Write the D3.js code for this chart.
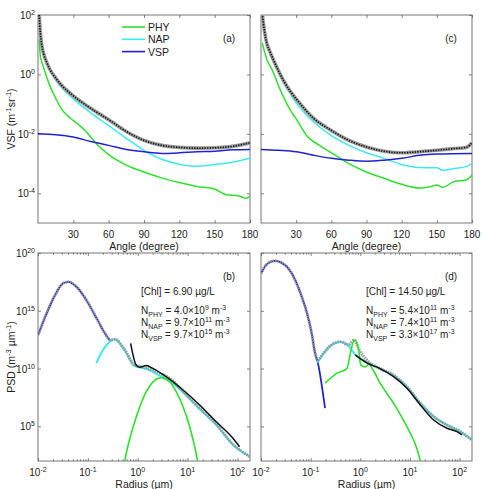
<!DOCTYPE html>
<html>
<head>
<meta charset="utf-8">
<script src="https://cdn.jsdelivr.net/npm/d3@7"></script>
<style>
body { margin: 0; background: #fff; }
text { font-family: "Liberation Sans", Arial, sans-serif; fill: #222; }
</style>
</head>
<body>
<div id="chart"></div>
<script>
// ---- data ----
// Panel (a): VSF vs scattering angle
var angA = [1, 2, 3, 5, 7.5, 10, 15, 20, 25, 30, 45, 60, 75, 90, 105, 120, 135, 150, 165, 180];
var vsfTotA = [100, 25, 11, 4.7, 2.5, 1.5, 0.76, 0.43, 0.28, 0.19, 0.071, 0.030, 0.012, 0.0060, 0.0041, 0.0035, 0.0033, 0.0034, 0.0038, 0.0050];
var vsfNapA = [89, 22, 10, 4.2, 2.2, 1.3, 0.66, 0.36, 0.23, 0.15, 0.050, 0.019, 0.0071, 0.0028, 0.0014, 0.00095, 0.00081, 0.00093, 0.0011, 0.0015];
var angPhyA = [1, 2, 3, 5, 7.5, 10, 15, 20, 25, 30, 40, 50, 60, 75, 90, 105, 120, 135, 150, 160, 170, 177, 180];
var vsfPhyA = [15, 4.2, 2.8, 1.6, 0.79, 0.42, 0.16, 0.068, 0.041, 0.028, 0.013, 0.0045, 0.0020, 0.00089, 0.00052, 0.00033, 0.00023, 0.00017, 0.00014, 0.000089, 0.000083, 0.000068, 0.000079];
var angVspA = [0, 15, 30, 45, 60, 75, 90, 105, 120, 135, 150, 165, 180];
var vsfVspA = [0.010, 0.0093, 0.0078, 0.0055, 0.0041, 0.0030, 0.0025, 0.0022, 0.0023, 0.0025, 0.0026, 0.0029, 0.0030];

// Panel (c)
var angC = [1, 3, 5, 7.5, 10, 15, 20, 25, 30, 45, 60, 75, 90, 105, 120, 135, 150, 165, 175, 180];
var vsfTotC = [112, 28, 11, 6.0, 3.5, 1.3, 0.55, 0.27, 0.15, 0.033, 0.013, 0.0060, 0.0036, 0.0026, 0.0023, 0.0025, 0.0028, 0.0032, 0.0035, 0.0050];
var angNapC = [1, 3, 5, 7.5, 10, 15, 20, 25, 30, 45, 60, 75, 90, 105, 120, 135, 150, 155, 165, 175, 180];
var vsfNapC = [100, 25, 10, 5.2, 3.0, 1.1, 0.45, 0.22, 0.11, 0.025, 0.0087, 0.0041, 0.0023, 0.0015, 0.00093, 0.00074, 0.00072, 0.00060, 0.00068, 0.00079, 0.0010];
var angPhyC = [1, 5, 10, 15, 20, 25, 30, 40, 50, 60, 75, 90, 105, 120, 135, 145, 150, 155, 165, 175, 180];
var vsfPhyC = [11.5, 3.2, 1.3, 0.41, 0.15, 0.063, 0.032, 0.0078, 0.0041, 0.0023, 0.0010, 0.00052, 0.00032, 0.00020, 0.00015, 0.00017, 0.00019, 0.00016, 0.00025, 0.00028, 0.00041];
var angVspC = [0, 15, 30, 45, 60, 75, 90, 105, 120, 135, 150, 180];
var vsfVspC = [0.0030, 0.0028, 0.0025, 0.0019, 0.0015, 0.0013, 0.0012, 0.0013, 0.0015, 0.0019, 0.0021, 0.0022];

// Panel (b): PSD vs radius
var radTotB = [0.01, 0.015, 0.022, 0.032, 0.041, 0.059, 0.093, 0.15, 0.22, 0.28, 0.35, 0.55, 0.87, 1.26, 1.74, 2.75, 4.4, 8.1, 17, 37, 81, 178];
var psdTotB = [7.9e12, 6.3e14, 2.3e16, 2.4e17, 3.2e17, 1.2e17, 8.5e15, 2.2e14, 1.1e13, 3.0e12, 3.4e12, 4.0e11, 2.0e10, 1.4e10, 1.0e10, 4.0e9, 1.4e9, 1.0e8, 4.0e6, 1.6e5, 2.8e3, 2.4e2];
var radNapB = [0.148, 0.2, 0.275, 0.35, 0.55, 0.87, 1.26, 1.74, 2.75, 4.4, 8.1, 17, 37, 81, 178];
var psdNapB = [2.9e10, 4.0e11, 2.1e12, 3.4e12, 3.5e11, 1.6e10, 1.1e10, 7.1e9, 2.4e9, 7.9e8, 8.9e7, 3.5e6, 1.4e5, 2.6e3, 2.4e2];
var radVspB = [0.01, 0.015, 0.022, 0.032, 0.041, 0.059, 0.093, 0.15, 0.22, 0.28];
var psdVspB = [7.9e12, 6.3e14, 2.3e16, 2.4e17, 3.2e17, 1.2e17, 8.5e15, 2.2e14, 1.1e13, 2.6e12];
var radPhyB = [0.5, 0.59, 0.81, 1.1, 1.48, 2.04, 2.95, 4.37, 5.9, 8.1, 11, 14.8, 17.4];
var psdPhyB = [10, 470, 9.3e4, 5.0e6, 1.0e8, 7.4e8, 1.6e9, 7.4e8, 1.0e8, 5.0e6, 9.3e4, 470, 10];
var radMeasB = [0.72, 0.93, 1.1, 1.48, 2.04, 3.7, 8.1, 17.4, 37, 81, 110];
var psdMeasB = [1.5e12, 2.0e10, 1.3e10, 1.8e10, 1.0e10, 2.0e9, 1.4e8, 7.1e6, 2.6e5, 9.3e3, 1.7e3];

// Panel (d)
var radTotD = [0.01, 0.0132, 0.019, 0.0263, 0.0355, 0.049, 0.066, 0.083, 0.105, 0.123, 0.138, 0.182, 0.245, 0.40, 0.575, 0.76, 0.93, 1.38, 2.51, 4.68, 8.7, 16.2, 30, 56, 105, 178];
var psdTotD = [1.7e18, 1.1e19, 2.1e19, 1.4e19, 4.7e18, 4.6e17, 1.7e16, 8.3e14, 1.1e13, 2.1e11, 5.5e10, 2.1e11, 8.9e11, 2.1e12, 1.1e12, 3.0e12, 5.0e11, 5.0e10, 1.0e10, 2.8e9, 2.7e8, 1.0e7, 6.9e5, 1.3e5, 3.5e4, 6.6e3];
var radVspD = [0.01, 0.0132, 0.019, 0.0263, 0.0355, 0.049, 0.066, 0.083, 0.105, 0.123, 0.138, 0.195];
var psdVspD = [1.7e18, 1.1e19, 2.1e19, 1.4e19, 4.7e18, 4.6e17, 1.7e16, 8.3e14, 1.1e13, 2.1e11, 4.0e10, 3.7e6];
var radNapD = [0.135, 0.182, 0.245, 0.40, 0.575, 0.79, 0.93, 1.38, 2.51, 4.68, 8.7, 16.2, 30, 56, 105, 178];
var psdNapD = [3.2e10, 2.0e11, 8.5e11, 2.0e12, 1.0e12, 1.6e11, 8.9e10, 3.5e10, 8.9e9, 2.5e9, 2.5e8, 1.0e7, 6.9e5, 1.3e5, 3.3e4, 6.3e3];
var radPhyD = [0.195, 0.34, 0.54, 0.63, 0.76, 0.93, 1.02, 1.26, 1.48, 1.74, 2.51, 4.68, 8.7, 14.1, 16.2, 20];
var psdPhyD = [5.4e8, 4.0e9, 1.0e10, 2.1e11, 3.0e12, 4.0e11, 2.0e10, 1.4e10, 2.5e10, 1.0e10, 5.4e8, 1.0e7, 9.3e4, 910, 100, 6.3];
var radMeasD = [0.79, 1.38, 2.51, 4.68, 8.7, 16.2, 30, 56, 89, 112];
var psdMeasD = [1.5e11, 2.9e10, 1.0e10, 2.0e9, 2.0e8, 7.1e6, 3.5e5, 6.8e4, 3.5e4, 1.8e4];

// ticks and labels
var angTicks = [30, 60, 90, 120, 150, 180];
var vsfTicks = [1e-4, 1e-2, 1e0, 1e2];
var radTicks = [1e-2, 1e-1, 1e0, 1e1, 1e2];
var psdTicks = [1e5, 1e10, 1e15, 1e20];
var legendNames = ["PHY", "NAP", "VSP"];
var chlB = "6.90", chlD = "14.50";
var numSubs = ["PHY", "NAP", "VSP"];
var numMantB = ["4.0", "9.7", "9.7"], numExpB = ["9", "11", "15"];
var numMantD = ["5.4", "7.4", "3.3"], numExpD = ["11", "11", "17"];

// ---- setup ----
var width = 483, height = 489;
var colPHY = "#2ee02e", colNAP = "#3ee8f0", colVSP = "#2222d0";
var axisCol = "#666";

var svg = d3.select("#chart").append("svg")
  .attr("width", width)
  .attr("height", height);
svg.append("rect").attr("width", width).attr("height", height).attr("fill", "#fff");

// write "10" with a superscript exponent into a text element
function powText(t, exp, sz) {
  t.append("tspan").text("10");
  t.append("tspan").attr("font-size", sz || 7).attr("dy", -4).text(exp);
}

// one panel: box, ticks, labels, clip, returns scales and a clipped group
function makePanel(cfg) {
  var x = cfg.logX ? d3.scaleLog() : d3.scaleLinear();
  x.domain(cfg.xDom).range([cfg.left, cfg.right]);
  var y = d3.scaleLog().domain(cfg.yDom).range([cfg.bottom, cfg.top]);

  var g = svg.append("g");
  var clipId = "clip" + cfg.name;
  svg.append("clipPath").attr("id", clipId)
    .append("rect")
    .attr("x", cfg.left).attr("y", cfg.top)
    .attr("width", cfg.right - cfg.left).attr("height", cfg.bottom - cfg.top);

  // tick marks pointing inward, on all four sides
  var xt = cfg.xTicks;
  g.append("g").attr("transform", "translate(0," + cfg.bottom + ")")
    .call(d3.axisBottom(x).tickValues(xt).tickSize(-3).tickSizeOuter(0).tickFormat(""));
  g.append("g").attr("transform", "translate(0," + cfg.top + ")")
    .call(d3.axisTop(x).tickValues(xt).tickSize(-3).tickSizeOuter(0).tickFormat(""));
  g.append("g").attr("transform", "translate(" + cfg.left + ",0)")
    .call(d3.axisLeft(y).tickValues(cfg.yTicks).tickSize(-3).tickSizeOuter(0).tickFormat(""));
  g.append("g").attr("transform", "translate(" + cfg.right + ",0)")
    .call(d3.axisRight(y).tickValues(cfg.yTicks).tickSize(-3).tickSizeOuter(0).tickFormat(""));

  if (cfg.logX) {
    var minor = x.ticks().filter(function(v) {
      var e = Math.log10(v);
      return Math.abs(e - Math.round(e)) > 1e-6;
    });
    g.append("g").attr("transform", "translate(0," + cfg.bottom + ")")
      .call(d3.axisBottom(x).tickValues(minor).tickSize(-1.8).tickSizeOuter(0).tickFormat(""));
    g.append("g").attr("transform", "translate(0," + cfg.top + ")")
      .call(d3.axisTop(x).tickValues(minor).tickSize(-1.8).tickSizeOuter(0).tickFormat(""));
  }
  g.selectAll(".domain").remove();
  g.selectAll(".tick line").attr("stroke", axisCol).attr("stroke-width", 0.8);

  g.append("rect")
    .attr("x", cfg.left).attr("y", cfg.top)
    .attr("width", cfg.right - cfg.left).attr("height", cfg.bottom - cfg.top)
    .attr("fill", "none").attr("stroke", axisCol).attr("stroke-width", 0.9);

  // x tick labels
  xt.forEach(function(v) {
    var t = g.append("text")
      .attr("x", x(v)).attr("y", cfg.bottom + 15)
      .attr("text-anchor", "middle").attr("font-size", 10);
    if (cfg.logX) powText(t, Math.round(Math.log10(v)));
    else t.text(v);
  });
  // y tick labels only on the left column
  if (cfg.yLabels) {
    cfg.yTicks.forEach(function(v) {
      var t = g.append("text")
        .attr("x", cfg.left - 3).attr("y", y(v) + 4)
        .attr("text-anchor", "end").attr("font-size", 10);
      powText(t, Math.round(Math.log10(v)));
    });
  }
  // x title
  g.append("text")
    .attr("x", (cfg.left + cfg.right) / 2).attr("y", cfg.bottom + 27)
    .attr("text-anchor", "middle").attr("font-size", 10.5)
    .text(cfg.xTitle);

  // panel tag
  g.append("text")
    .attr("x", cfg.right - 21).attr("y", cfg.top + 27)
    .attr("text-anchor", "middle").attr("font-size", 10)
    .text(cfg.tag);

  var plot = svg.append("g").attr("clip-path", "url(#" + clipId + ")");
  return { x: x, y: y, plot: plot, g: g };
}

function drawLine(p, xs, ys, color, w, extra) {
  var line = d3.line()
    .x(function(d) { return p.x(d[0]); })
    .y(function(d) { return p.y(d[1]); })
    .curve(d3.curveMonotoneX);
  var path = p.plot.append("path")
    .datum(d3.zip(xs, ys))
    .attr("d", line)
    .attr("fill", "none")
    .attr("stroke", color)
    .attr("stroke-width", w)
    .attr("stroke-linejoin", "round");
  if (extra) {
    Object.keys(extra).forEach(function(k) { path.attr(k, extra[k]); });
  }
  return path;
}

// total VSF: grey band with black dots on top
function drawTotalVsf(p, xs, ys) {
  drawLine(p, xs, ys, "#9a9a9a", 3.6);
  drawLine(p, xs, ys, "#111", 1.6, { "stroke-dasharray": "1.3,1.3" });
}

// total PSD: grey dotted band, partly showing what lies under it
function drawTotalPsd(p, xs, ys) {
  drawLine(p, xs, ys, "#8e9696", 3, { "stroke-dasharray": "1.6,0.9", "opacity": 0.9 });
}

function numLine(g, x, y, sub, mant, exp) {
  var t = g.append("text").attr("x", x).attr("y", y).attr("font-size", 10);
  t.append("tspan").text("N");
  t.append("tspan").attr("font-size", 7).attr("dy", 3).text(sub);
  t.append("tspan").attr("dy", -3).text(" = " + mant + "\u00d710");
  t.append("tspan").attr("font-size", 7).attr("dy", -4).text(exp);
  t.append("tspan").attr("dy", 4).text(" m");
  t.append("tspan").attr("font-size", 7).attr("dy", -4).text("-3");
}

function annotate(p, x0, chl, mants, exps) {
  p.g.append("text").attr("x", x0).attr("y", 295).attr("font-size", 10)
    .text("[Chl] = " + chl + " \u00b5g/L");
  var ys = [314, 326, 338];
  numSubs.forEach(function(s, i) {
    numLine(p.g, x0, ys[i], s, mants[i], exps[i]);
  });
}

// ---- top row: VSF ----
var topRow = { top: 15, bottom: 223, xDom: [0, 180], yDom: [1e-5, 1e2],
  xTicks: angTicks, yTicks: vsfTicks, xTitle: "Angle (degree)" };

var pa = makePanel(Object.assign({}, topRow, { name: "a", left: 38, right: 250, yLabels: true, tag: "(a)" }));
drawLine(pa, angPhyA, vsfPhyA, colPHY, 1.5);
drawLine(pa, angA, vsfNapA, colNAP, 1.5);
drawLine(pa, angVspA, vsfVspA, colVSP, 1.5);
drawTotalVsf(pa, angA, vsfTotA);

var pc = makePanel(Object.assign({}, topRow, { name: "c", left: 261, right: 472, yLabels: false, tag: "(c)" }));
drawLine(pc, angPhyC, vsfPhyC, colPHY, 1.5);
drawLine(pc, angNapC, vsfNapC, colNAP, 1.5);
drawLine(pc, angVspC, vsfVspC, colVSP, 1.5);
drawTotalVsf(pc, angC, vsfTotC);

// legend in (a)
var legCols = [colPHY, colNAP, colVSP];
legendNames.forEach(function(n, i) {
  var ly = 27 + i * 12.3;
  pa.g.append("line").attr("x1", 122).attr("x2", 145).attr("y1", ly).attr("y2", ly)
    .attr("stroke", legCols[i]).attr("stroke-width", 1.6);
  pa.g.append("text").attr("x", 148).attr("y", ly + 4).attr("font-size", 10.5).text(n);
});

// VSF y title
var vt = svg.append("text")
  .attr("transform", "translate(15,119) rotate(-90)")
  .attr("text-anchor", "middle").attr("font-size", 10.5);
vt.append("tspan").text("VSF (m");
vt.append("tspan").attr("font-size", 7.5).attr("dy", -4).text("-1");
vt.append("tspan").attr("dy", 4).text("sr");
vt.append("tspan").attr("font-size", 7.5).attr("dy", -4).text("-1");
vt.append("tspan").attr("dy", 4).text(")");

// ---- bottom row: PSD ----
var botRow = { top: 253, bottom: 461, logX: true, xDom: [0.01, 178], yDom: [1e2, 1e20],
  xTicks: radTicks, yTicks: psdTicks, xTitle: "Radius (\u00b5m)" };

var pb = makePanel(Object.assign({}, botRow, { name: "b", left: 38, right: 250, yLabels: true, tag: "(b)" }));
drawLine(pb, radVspB, psdVspB, colVSP, 1.8);
drawLine(pb, radNapB, psdNapB, colNAP, 2);
drawTotalPsd(pb, radTotB, psdTotB);
drawLine(pb, radPhyB, psdPhyB, colPHY, 1.6);
drawLine(pb, radMeasB, psdMeasB, "#111", 1.5);
annotate(pb, 141, chlB, numMantB, numExpB);

var pd = makePanel(Object.assign({}, botRow, { name: "d", left: 261, right: 472, yLabels: false, tag: "(d)" }));
drawLine(pd, radVspD, psdVspD, colVSP, 1.8);
drawLine(pd, radNapD, psdNapD, colNAP, 2);
drawTotalPsd(pd, radTotD, psdTotD);
drawLine(pd, radPhyD, psdPhyD, colPHY, 1.6);
drawLine(pd, radMeasD, psdMeasD, "#111", 1.5);
annotate(pd, 366, chlD, numMantD, numExpD);

// PSD y title
var pt = svg.append("text")
  .attr("transform", "translate(15,357) rotate(-90)")
  .attr("text-anchor", "middle").attr("font-size", 10.5);
pt.append("tspan").text("PSD (m");
pt.append("tspan").attr("font-size", 7.5).attr("dy", -4).text("-3");
pt.append("tspan").attr("dy", 4).text(" \u00b5m");
pt.append("tspan").attr("font-size", 7.5).attr("dy", -4).text("-1");
pt.append("tspan").attr("dy", 4).text(")");
</script>
</body>
</html>
